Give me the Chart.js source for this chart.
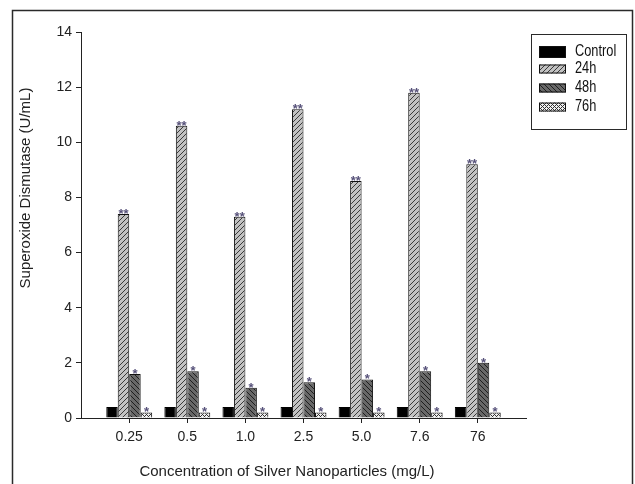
<!DOCTYPE html>
<html>
<head>
<meta charset="utf-8">
<script src="https://cdn.jsdelivr.net/npm/chart.js@4.4.1/dist/chart.umd.min.js"></script>
<style>
  body { margin: 0; background: #fff; }
  #wrap { width: 635px; height: 484px; }
</style>
</head>
<body>
<div id="wrap"><canvas id="sodChart" width="635" height="484"></canvas></div>
<script>
// Data
const concLabels = ['0.25', '0.5', '1.0', '2.5', '5.0', '7.6', '76'];
const controlVals = [0.4, 0.4, 0.4, 0.4, 0.4, 0.4, 0.4];
const h24Vals = [7.4, 10.6, 7.3, 11.2, 8.6, 11.8, 9.2];
const h48Vals = [1.6, 1.7, 1.1, 1.3, 1.4, 1.7, 2.0];
const h76Vals = [0.2, 0.2, 0.2, 0.2, 0.2, 0.2, 0.2];
const sig24 = ['**', '**', '**', '**', '**', '**', '**'];
const sig48 = ['*', '*', '*', '*', '*', '*', '*'];
const sig76 = ['*', '*', '*', '*', '*', '*', '*'];
const seriesNames = ['Control', '24h', '48h', '76h'];
const yTicks = [0, 2, 4, 6, 8, 10, 12, 14];

const FONT = "'Liberation Sans', Arial, sans-serif";

// small hatch patterns like the original plot
function makePattern(size, bg, fg, test) {
    const c = document.createElement('canvas');
    c.width = size; c.height = size;
    const g = c.getContext('2d');
    g.fillStyle = bg;
    g.fillRect(0, 0, size, size);
    g.fillStyle = fg;
    for (let x = 0; x < size; x++) {
        for (let y = 0; y < size; y++) {
            if (test(x, y)) g.fillRect(x, y, 1, 1);
        }
    }
    return g.createPattern(c, 'repeat');
}

const pat24 = makePattern(5, '#c2c2c2', '#3a3a3a', (x, y) => (x + y) % 5 === 4);
const pat48 = makePattern(5, '#686868', '#1e1e1e', (x, y) => (x - y + 10) % 5 === 0);
const pat76 = makePattern(4, '#f0f0f0', '#333', (x, y) => (x + y) % 4 === 0 || (x - y + 8) % 4 === 0);

const toPoints = vals => vals.map((v, i) => ({ x: i, y: v }));

// outer frame + legend + axis titles
const decorPlugin = {
    id: 'decor',
    beforeDraw(chart) {
        const ctx = chart.ctx;
        ctx.save();
        ctx.fillStyle = '#fff';
        ctx.fillRect(0, 0, chart.width, chart.height);
        ctx.strokeStyle = '#2a2a2a';
        ctx.lineWidth = 1.5;
        ctx.strokeRect(12.5, 10.5, 620, 500);
        ctx.restore();
    },
    afterDraw(chart) {
        const ctx = chart.ctx;
        ctx.save();
        // axis titles
        ctx.fillStyle = '#222';
        ctx.font = '15px ' + FONT;
        ctx.textAlign = 'center';
        ctx.textBaseline = 'middle';
        ctx.fillText('Concentration of Silver Nanoparticles (mg/L)', 287, 472);
        ctx.translate(26, 188);
        ctx.rotate(-Math.PI / 2);
        ctx.fillText('Superoxide Dismutase (U/mL)', 0, 0);
        ctx.restore();

        // legend box
        ctx.save();
        ctx.strokeStyle = '#2a2a2a';
        ctx.lineWidth = 1;
        ctx.strokeRect(531.5, 34.5, 95, 95);
        const rows = [52, 69, 88, 107];
        chart.data.datasets.forEach((ds, i) => {
            const h = i === 0 ? 12 : 9;
            const y = rows[i] - h / 2;
            ctx.fillStyle = ds.backgroundColor;
            ctx.fillRect(539, y, 27, h);
            ctx.strokeStyle = '#111';
            ctx.strokeRect(539.5, y + 0.5, 26, h - 1);
            // condensed label text
            ctx.save();
            ctx.translate(575, rows[i]);
            ctx.scale(0.8, 1);
            ctx.fillStyle = '#111';
            ctx.font = '16px ' + FONT;
            ctx.textAlign = 'left';
            ctx.textBaseline = 'middle';
            ctx.fillText(ds.label, 0, 0);
            ctx.restore();
        });
        ctx.restore();
    },
    afterDatasetsDraw(chart) {
        // significance stars over the treated bars
        const ctx = chart.ctx;
        const marks = [null, sig24, sig48, sig76];
        ctx.save();
        ctx.fillStyle = '#57527a';
        ctx.font = 'bold 13px ' + FONT;
        ctx.textAlign = 'center';
        ctx.textBaseline = 'alphabetic';
        marks.forEach((m, di) => {
            if (!m) return;
            chart.getDatasetMeta(di).data.forEach((bar, i) => {
                ctx.fillText(m[i], bar.x, bar.y + 4);
            });
        });
        ctx.restore();
    }
};

new Chart(document.getElementById('sodChart'), {
    type: 'bar',
    data: {
        datasets: [
            { label: seriesNames[0], data: toPoints(controlVals), backgroundColor: '#000', borderColor: '#000', borderWidth: 1 },
            { label: seriesNames[1], data: toPoints(h24Vals), backgroundColor: pat24, borderColor: '#111', borderWidth: 1 },
            { label: seriesNames[2], data: toPoints(h48Vals), backgroundColor: pat48, borderColor: '#111', borderWidth: 1 },
            { label: seriesNames[3], data: toPoints(h76Vals), backgroundColor: pat76, borderColor: '#111', borderWidth: 1 }
        ]
    },
    options: {
        responsive: false,
        animation: false,
        categoryPercentage: 0.79,
        barPercentage: 1.0,
        layout: { padding: { top: 32, right: 109, left: 0, bottom: 0 } },
        plugins: {
            legend: { display: false },
            tooltip: { enabled: false }
        },
        scales: {
            x: {
                type: 'linear',
                offset: false,
                min: -0.83,
                max: 6.83,
                afterBuildTicks: s => { s.ticks = concLabels.map((_, i) => ({ value: i })); },
                afterFit: s => { s.height = 66; },
                ticks: {
                    autoSkip: false,
                    maxRotation: 0,
                    padding: 6,
                    color: '#222',
                    font: { family: FONT, size: 14 },
                    callback: v => concLabels[v]
                },
                grid: { drawOnChartArea: false, tickLength: 5, color: '#222', offset: false },
                border: { color: '#222', width: 1 }
            },
            y: {
                min: 0,
                max: 14,
                afterBuildTicks: s => { s.ticks = yTicks.map(v => ({ value: v })); },
                afterFit: s => { s.width = 81; },
                ticks: {
                    padding: 4,
                    color: '#222',
                    font: { family: FONT, size: 14 }
                },
                grid: { drawOnChartArea: false, tickLength: 5, color: '#222' },
                border: { color: '#222', width: 1 }
            }
        }
    },
    plugins: [decorPlugin]
});
</script>
</body>
</html>
